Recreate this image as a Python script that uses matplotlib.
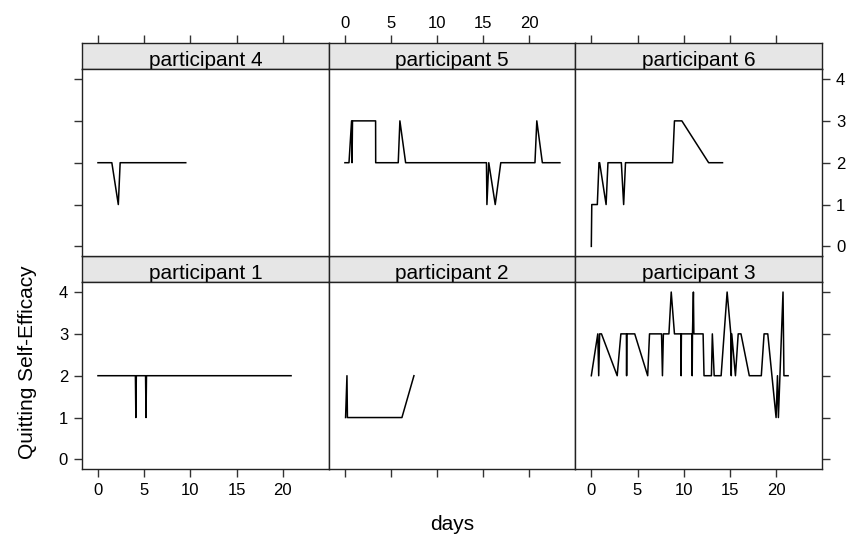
import matplotlib
matplotlib.use("Agg")
import matplotlib.pyplot as plt

plt.rcParams['font.family'] = ['Liberation Sans', 'DejaVu Sans']

# quitting self-efficacy per participant over study days
p1_days = [0, 4.05, 4.1, 4.15, 5.15, 5.2, 5.25, 20.9]
p1_qse = [2, 2, 1, 2, 2, 1, 2, 2]

p2_days = [0.1, 0.25, 0.3, 0.8, 6.2, 7.5]
p2_qse = [1, 2, 1, 1, 1, 2]

p3_days = [0, 0.7, 0.8, 0.9, 1.1, 2.8, 3.2, 3.8, 3.82, 3.85, 4.7, 6.1, 6.3, 7.6,
           7.7, 7.8, 8.4, 8.65, 9.0, 9.7, 9.72, 9.75, 10.9, 10.92, 10.95, 11.05,
           11.1, 12.1, 12.2, 13.0, 13.1, 13.3, 14.05, 14.7, 15.1, 15.15, 15.2,
           15.6, 15.9, 16.2, 17.1, 18.4, 18.7, 19.1, 20.0, 20.15, 20.25, 20.75,
           20.85, 21.3]
p3_qse = [2, 3, 2, 3, 3, 2, 3, 3, 2, 3, 3, 2, 3, 3,
          2, 3, 3, 4, 3, 3, 2, 3, 3, 2, 3, 4,
          3, 3, 2, 2, 3, 2, 2, 4, 3, 2, 3,
          2, 3, 3, 2, 2, 3, 3, 1, 2, 1, 4,
          2, 2]

p4_days = [0, 1.5, 2.2, 2.4, 9.5]
p4_qse = [2, 2, 1, 2, 2]

p5_days = [0.03, 0.47, 0.75, 0.8, 0.85, 3.35, 3.36, 5.8, 5.98, 6.6, 15.35, 15.4,
           15.6, 16.3, 16.9, 20.6, 20.8, 21.4, 23.3]
p5_qse = [2, 2, 3, 2, 3, 3, 2, 2, 3, 2, 2, 1,
          2, 1, 2, 2, 3, 2, 2]

p6_days = [0, 0.05, 0.65, 0.83, 0.9, 1.6, 1.8, 3.25, 3.5, 3.7, 8.8, 9.0, 9.8,
           12.7, 14.2]
p6_qse = [0, 1, 1, 2, 2, 1, 2, 2, 1, 2, 2, 3, 3,
          2, 2]

labels = ['participant 1', 'participant 2', 'participant 3',
          'participant 4', 'participant 5', 'participant 6']
days = [p1_days, p2_days, p3_days, p4_days, p5_days, p6_days]
qse = [p1_qse, p2_qse, p3_qse, p4_qse, p5_qse, p6_qse]

x_ticks = [0, 5, 10, 15, 20]
y_ticks = [0, 1, 2, 3, 4]

W, H = 854, 544
fig = plt.figure(figsize=(W / 100, H / 100), dpi=100)

left, right = 82, 822
pw = (right - left) / 3
panel_h = 187
strip_h = 26
row_top = [43, 256]  # top of strip for top row and bottom row

xlim = (-1.73, 24.97)
ylim = (-0.23, 4.24)


def frac(x, y, w, h):
    return [x / W, 1 - (y + h) / H, w / W, h / H]


# top row holds participants 4-6, bottom row 1-3 (lattice order)
for i in range(6):
    col = i % 3
    row = 1 if i < 3 else 0
    x0 = left + col * pw
    ys = row_top[row]
    strip = fig.add_axes(frac(x0, ys, pw, strip_h))
    ax = fig.add_axes(frac(x0, ys + strip_h, pw, panel_h))

    ax.plot(days[i], qse[i], color='black', lw=1.1)
    ax.set_xlim(*xlim)
    ax.set_ylim(*ylim)
    strip.set_xlim(*xlim)
    strip.set_ylim(0, 1)
    strip.set_facecolor('#e6e6e6')
    strip.text(0.5, 0.1, labels[i], transform=strip.transAxes,
               ha='center', va='baseline', fontsize=15)

    for a in (ax, strip):
        for s in a.spines.values():
            s.set_linewidth(1.0)
            s.set_color('#222222')
        a.set_xticks(x_ticks)
        a.set_yticks(y_ticks)
        a.tick_params(length=6, width=1, color='#333333', labelsize=12,
                      direction='out',
                      bottom=False, top=False, left=False, right=False,
                      labelbottom=False, labeltop=False,
                      labelleft=False, labelright=False)
    strip.set_yticks([])

    if row == 1:
        ax.tick_params(bottom=True, labelbottom=(col != 1), pad=3)
    else:
        strip.tick_params(top=True, labeltop=(col == 1), pad=3)
    if col == 0:
        ax.tick_params(left=True, labelleft=(row == 1), pad=4)
    if col == 2:
        ax.tick_params(right=True, labelright=(row == 0), pad=4)

fig.text((left + right) / 2 / W, 1 - 525 / H, 'days',
         ha='center', va='center', fontsize=15)
fig.text(28 / W, 1 - 362 / H, 'Quitting Self-Efficacy',
         ha='center', va='center', rotation=90, fontsize=15)

fig.savefig('out.png', dpi=100, facecolor='white')
